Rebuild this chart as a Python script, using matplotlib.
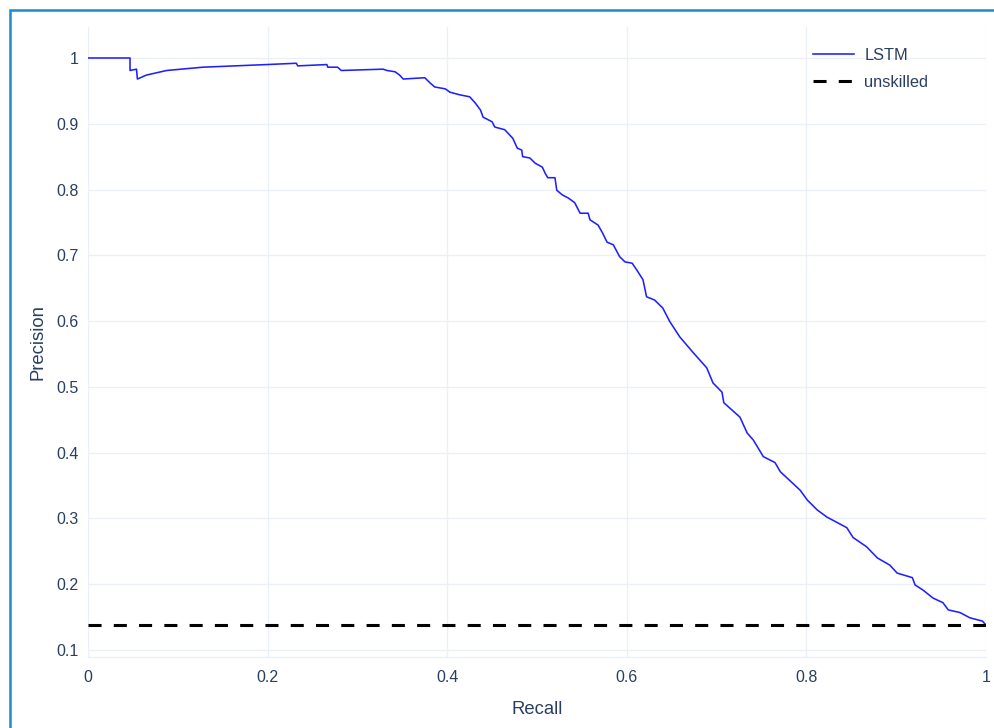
import matplotlib
matplotlib.use("Agg")
import matplotlib.pyplot as plt
from matplotlib.patches import Rectangle

# ---- data ----
recall = [0, 0.0468, 0.0468, 0.054, 0.055, 0.065, 0.0876, 0.128, 0.199, 0.232, 0.2335,
          0.266, 0.267, 0.278, 0.282, 0.3285, 0.333, 0.342, 0.347, 0.351, 0.375, 0.381,
          0.386, 0.398, 0.403, 0.414, 0.425, 0.431, 0.437, 0.440, 0.450, 0.453, 0.464,
          0.473, 0.478, 0.483, 0.484, 0.492, 0.498, 0.506, 0.509, 0.512, 0.520, 0.522,
          0.528, 0.535, 0.542, 0.548, 0.557, 0.559, 0.568, 0.573, 0.578, 0.585, 0.592,
          0.598, 0.606, 0.611, 0.618, 0.622, 0.631, 0.640, 0.648, 0.659, 0.674, 0.689,
          0.696, 0.706, 0.708, 0.726, 0.734, 0.741, 0.752, 0.765, 0.771, 0.793, 0.801,
          0.812, 0.823, 0.845, 0.852, 0.867, 0.879, 0.893, 0.901, 0.918, 0.921, 0.930,
          0.941, 0.952, 0.958, 0.971, 0.982, 0.996, 1.0]
precision = [1.0, 1.0, 0.981, 0.983, 0.968, 0.974, 0.981, 0.986, 0.990, 0.992, 0.988,
             0.990, 0.986, 0.986, 0.981, 0.983, 0.981, 0.979, 0.974, 0.968, 0.970, 0.962,
             0.956, 0.953, 0.948, 0.944, 0.941, 0.932, 0.921, 0.910, 0.903, 0.895, 0.891,
             0.878, 0.863, 0.860, 0.850, 0.848, 0.840, 0.834, 0.825, 0.818, 0.818, 0.799,
             0.792, 0.787, 0.780, 0.764, 0.764, 0.754, 0.746, 0.734, 0.720, 0.716, 0.698,
             0.690, 0.688, 0.678, 0.663, 0.637, 0.632, 0.620, 0.599, 0.576, 0.552, 0.529,
             0.506, 0.492, 0.476, 0.454, 0.430, 0.419, 0.394, 0.385, 0.371, 0.343, 0.328,
             0.313, 0.302, 0.286, 0.271, 0.257, 0.240, 0.229, 0.217, 0.210, 0.199, 0.191,
             0.179, 0.172, 0.161, 0.157, 0.149, 0.144, 0.138]
unskilled_x = [0, 1]
unskilled_y = [0.138, 0.138]
x_ticks = [0, 0.2, 0.4, 0.6, 0.8, 1]
x_tick_labels = ["0", "0.2", "0.4", "0.6", "0.8", "1"]
y_ticks = [0.1, 0.2, 0.3, 0.4, 0.5, 0.6, 0.7, 0.8, 0.9, 1]
y_tick_labels = ["0.1", "0.2", "0.3", "0.4", "0.5", "0.6", "0.7", "0.8", "0.9", "1"]

assert len(recall) == len(precision)

plt.rcParams['font.family'] = ['Liberation Sans', 'DejaVu Sans']
plt.rcParams['lines.scale_dashes'] = False
TXT = "#2a3f5f"
GRID = "#EBF0F8"

W, H = 995, 728
fig = plt.figure(figsize=(W / 100, H / 100), dpi=100)
fig.patch.set_facecolor("white")

# blue frame
fig.patches.append(Rectangle((10 / W, -0.05), 1.2, (H - 10) / H + 0.05, transform=fig.transFigure,
                             fill=False, edgecolor="#1E8BC3", linewidth=1.8))

ax = fig.add_axes([88 / W, (H - 657) / H, (986 - 88) / W, (657 - 27) / H])
ax.set_facecolor("white")
ax.set_xlim(0, 1)
ax.set_ylim(0.0894, 1.0471)

for s in ["top", "right", "left"]:
    ax.spines[s].set_visible(False)
ax.spines["bottom"].set_color(GRID)
ax.spines["bottom"].set_linewidth(1.0)

ax.set_xticks(x_ticks)
ax.set_xticklabels(x_tick_labels)
ax.set_yticks(y_ticks)
ax.set_yticklabels(y_tick_labels)
ax.tick_params(axis="both", length=0, labelsize=11.5, colors=TXT)
ax.tick_params(axis="x", pad=9)
ax.tick_params(axis="y", pad=7)
ax.grid(True, color=GRID, linewidth=1.0)
ax.set_axisbelow(True)

ax.plot(recall, precision, color="#2020ff", linewidth=1.15, label="LSTM", zorder=3)
ax.plot(unskilled_x, unskilled_y, color="black", linewidth=2.2, dashes=(9.4, 8.8),
        label="unskilled", zorder=3)

ax.set_xlabel("Recall", fontsize=13.3, color=TXT, labelpad=12)
ax.set_ylabel("Precision", fontsize=13.3, color=TXT, labelpad=7)

leg = ax.legend(loc="upper left", bbox_to_anchor=(0.795, 0.985), frameon=False,
                fontsize=11.8, handlelength=2.5, handletextpad=0.6, labelspacing=0.75,
                borderaxespad=0.3)
for t in leg.get_texts():
    t.set_color(TXT)

fig.savefig("out.png", dpi=100, facecolor="white")
